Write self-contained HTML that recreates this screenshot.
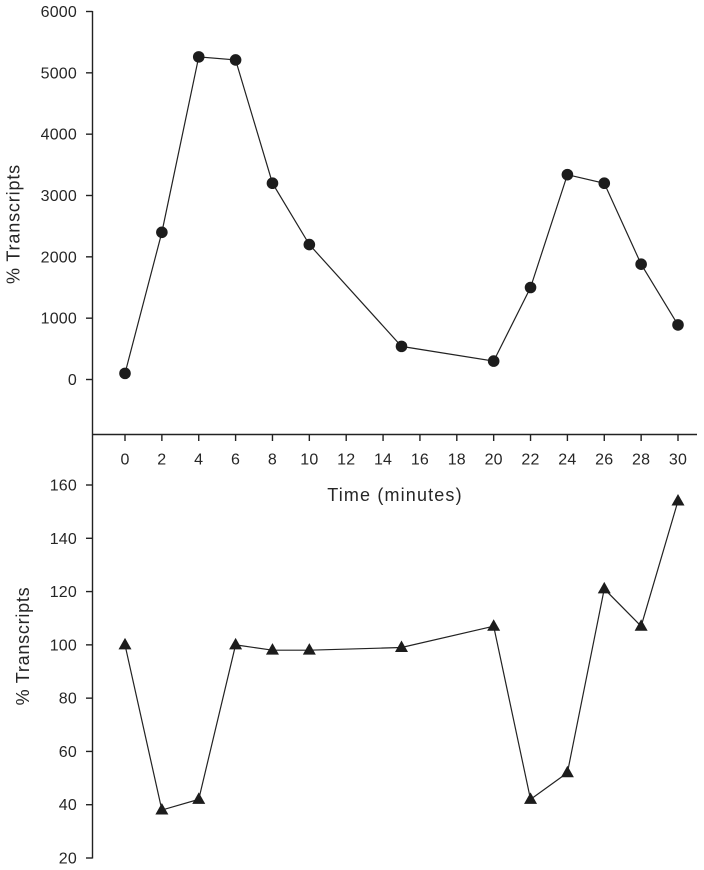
<!DOCTYPE html>
<html lang="en">
<head>
<meta charset="utf-8">
<title>Transcripts over time</title>
<style>
html,body{margin:0;padding:0;background:#fff;width:704px;height:870px;overflow:hidden}
svg{display:block;filter:blur(0.25px)}
text{font-family:"Liberation Sans",Arial,sans-serif;fill:#262626;font-size:16px;letter-spacing:0.2px}
.title{font-size:18px;letter-spacing:1.15px}
.axis{stroke:#222;stroke-width:1.4;fill:none}
.series{stroke:#222;stroke-width:1.2;fill:none}
.mark{fill:#1c1c1c}
</style>
</head>
<body>
<svg id="chart" xmlns="http://www.w3.org/2000/svg" width="704" height="870" viewBox="0 0 704 870"></svg>
<script>
const timeTicks = [0, 2, 4, 6, 8, 10, 12, 14, 16, 18, 20, 22, 24, 26, 28, 30];
const times = [0, 2, 4, 6, 8, 10, 15, 20, 22, 24, 26, 28, 30];
const topValues = [100, 2400, 5260, 5210, 3200, 2200, 540, 300, 1500, 3340, 3200, 1880, 890];
const bottomValues = [100, 38, 42, 100, 98, 98, 99, 107, 42, 52, 121, 107, 154];
const topTicks = [0, 1000, 2000, 3000, 4000, 5000, 6000];
const bottomTicks = [20, 40, 60, 80, 100, 120, 140, 160];

const svg = document.getElementById('chart');
const NS = 'http://www.w3.org/2000/svg';

function xScale(t) { return 125 + (t / 30) * 553; }
function yTop(v) { return 379.5 - (v / 6000) * 368; }
function yBottom(v) { return 858 - ((v - 20) / 140) * 373; }

function make(tag, attrs, name, text) {
  const el = document.createElementNS(NS, tag);
  for (const k in attrs) el.setAttribute(k, attrs[k]);
  
  
  if (text !== undefined) el.textContent = text;
  svg.appendChild(el);
  return el;
}

// Top panel y axis
make('line', {x1: 92.5, x2: 92.5, y1: 11, y2: 434.5, class: 'axis'}, 'top-y-axis');
topTicks.forEach(function (v) {
  make('line', {x1: 86, x2: 92.5, y1: yTop(v), y2: yTop(v), class: 'axis'}, 'top-y-tick');
  make('text', {x: 77, y: yTop(v) + 5.5, 'text-anchor': 'end'}, 'top-y-tick-label', v);
});
make('text', {x: 0, y: 0, 'text-anchor': 'middle', class: 'title', style: 'letter-spacing:0.85px', transform: 'translate(19.5,224) rotate(-90)'}, 'top-y-axis-title', '% Transcripts');

// Shared x axis
make('line', {x1: 92, x2: 697, y1: 434.5, y2: 434.5, class: 'axis'}, 'x-axis');
timeTicks.forEach(function (t) {
  make('line', {x1: xScale(t), x2: xScale(t), y1: 434.5, y2: 441, class: 'axis'}, 'x-tick');
  make('text', {x: xScale(t), y: 464.5, 'text-anchor': 'middle'}, 'x-tick-label', t);
});
make('text', {x: 395, y: 501, 'text-anchor': 'middle', class: 'title'}, 'x-axis-title', 'Time (minutes)');

// Bottom panel y axis
make('line', {x1: 92.5, x2: 92.5, y1: 434.5, y2: 858.5, class: 'axis'}, 'bottom-y-axis');
bottomTicks.forEach(function (v) {
  make('line', {x1: 86, x2: 92.5, y1: yBottom(v), y2: yBottom(v), class: 'axis'}, 'bottom-y-tick');
  make('text', {x: 77, y: yBottom(v) + 5.5, 'text-anchor': 'end'}, 'bottom-y-tick-label', v);
});
make('text', {x: 0, y: 0, 'text-anchor': 'middle', class: 'title', style: 'letter-spacing:0.75px', transform: 'translate(29,646) rotate(-90)'}, 'bottom-y-axis-title', '% Transcripts');

// Top series: line and circles
make('polyline', {class: 'series', points: times.map(function (t, i) { return xScale(t) + ',' + yTop(topValues[i]); }).join(' ')}, 'top-series-line');
times.forEach(function (t, i) {
  make('circle', {cx: xScale(t), cy: yTop(topValues[i]), r: 5.8, class: 'mark'}, 'top-series-point');
});

// Bottom series: line and triangles
make('polyline', {class: 'series', points: times.map(function (t, i) { return xScale(t) + ',' + yBottom(bottomValues[i]); }).join(' ')}, 'bottom-series-line');
times.forEach(function (t, i) {
  const x = xScale(t), y = yBottom(bottomValues[i]);
  make('polygon', {points: (x - 6.5) + ',' + (y + 4.5) + ' ' + (x + 6.5) + ',' + (y + 4.5) + ' ' + x + ',' + (y - 7), class: 'mark'}, 'bottom-series-point');
});
</script>
</body>
</html>
